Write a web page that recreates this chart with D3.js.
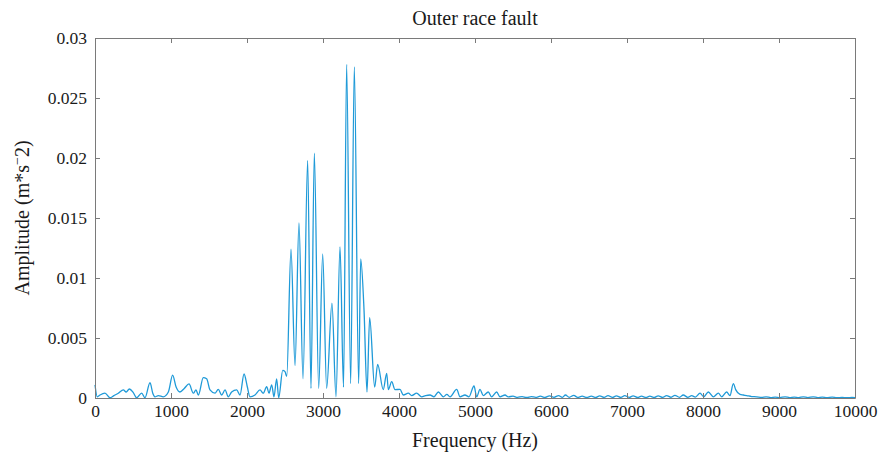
<!DOCTYPE html>
<html>
<head>
<meta charset="utf-8">
<script src="https://cdn.jsdelivr.net/npm/d3@7"></script>
<style>
body { margin: 0; background: #fff; }
.axis text { font-family: "Liberation Serif", "DejaVu Serif", serif; font-size: 17.5px; fill: #1a1a1a; }
.axis line, .axis path { stroke: #7a7a7a; }
.lbl { font-family: "Liberation Serif", "DejaVu Serif", serif; font-size: 20px; fill: #1a1a1a; }
</style>
</head>
<body>
<div id="chart"></div>
<script>
// spectrum: frequency (Hz) and amplitude (m*s^-2)
var freqHz = [0,30,66,131,197,250,307,373,410,452,504,548,614,658,724,760,789,833,899,965,
	1022,1066,1118,1175,1237,1294,1329,1360,1425,1469,1513,1579,1622,1667,1711,1754,1798,1864,1908,1961,
	2004,2039,2105,2171,2214,2259,2289,2325,2355,2390,2417,2470,2500,2523,2579,2632,2684,2737,2798,2842,
	2886,2943,2996,3048,3118,3171,3224,3270,3311,3364,3412,3469,3496,3540,3579,3614,3680,3719,3793,3838,
	3860,3904,3947,4013,4057,4123,4167,4232,4298,4350,4408,4460,4518,4583,4630,4671,4759,4803,4868,4920,
	4987,5022,5066,5109,5175,5219,5285,5329,5395,5438,5500,5560,5620,5680,5740,5800,5860,5920,5980,6040,
	6100,6150,6190,6240,6300,6350,6410,6470,6530,6590,6640,6700,6750,6810,6860,6920,6970,7030,7080,7140,
	7190,7250,7300,7360,7410,7470,7520,7580,7630,7690,7740,7800,7851,7900,7961,8010,8070,8136,8202,8246,
	8311,8355,8399,8430,8487,8530,8575,8640,8706,8770,8830,8890,8950,9010,9080,9140,9200,9260,9320,9380,
	9450,9510,9570,9630,9700,9760,9830,9900,9960,10000];
var ampl = [0.0011,0.0001,0.00025,0.0004,0.00002,0.0002,0.0004,0.00067,0.0005,0.00075,0.00045,0.00002,0.0004,0.00002,0.00128,0.0004,0.0001,0.0002,0.0001,0.0005,
	0.0019,0.00094,0.0005,0.0008,0.00117,0.0004,0.00067,0.00025,0.0017,0.0016,0.00067,0.0004,0.00072,0.00025,0.00067,0.0001,0.0005,0.00067,0.00025,0.002,
	0.00094,0.0001,0.00025,0.00067,0.0004,0.00094,0.0004,0.0011,0.0001,0.0016,0.00002,0.0023,0.0022,0.0018,0.0124,0.0027,0.0146,0.0016,0.0198,0.0008,
	0.0204,0.0008,0.0120,0.0008,0.0079,0.0001,0.0126,0.0009,0.0278,0.0012,0.0276,0.0012,0.0116,0.0073,0.0005,0.0067,0.0009,0.0028,0.0007,0.00206,
	0.0007,0.00136,0.0007,0.00072,0.00025,0.0004,0.0002,0.0004,0.0001,0.0002,0.00025,0.0001,0.0005,0.0001,0.0003,0.0001,0.00072,0.0001,0.00025,0.0001,
	0.001,0.0001,0.00072,0.0002,0.0005,0.0001,0.0005,0.0001,0.00025,0.0001,0.00015,0.00005,0.00012,0.00004,0.00012,0.00005,0.00015,0.00005,0.00018,0.00006,
	0.0002,0.00006,0.00025,0.00006,0.00022,0.00005,0.00015,0.00004,0.00015,0.00005,0.00018,0.00005,0.0002,0.00005,0.00018,0.00005,0.0002,0.00005,0.00018,0.00005,
	0.00015,0.00004,0.00015,0.00005,0.00018,0.00005,0.0002,0.00006,0.00022,0.00006,0.00025,0.00006,0.0002,0.00008,0.0004,0.0001,0.0005,0.0001,0.0004,0.0001,
	0.0005,0.0002,0.0012,0.0007,0.0003,0.00025,0.0002,0.00012,0.0001,0.00004,0.0001,0.00003,0.00008,0.00003,0.0001,0.00003,0.00008,0.00003,0.0001,0.00003,
	0.0001,0.00003,0.00008,0.00003,0.00008,0.00002,0.00006,0.00002,0.00005,0.00002];

var xTicks = d3.range(0, 10001, 1000);
var yTicks = [0, 0.005, 0.01, 0.015, 0.02, 0.025, 0.03];

var W = 884, H = 462;
var m = {l:95, r:29, t:38, b:64};

var svg = d3.select('#chart').append('svg')
			.attr('width', W)
			.attr('height', H);

var x = d3.scaleLinear().domain([0, 10000]).range([m.l, W-m.r]);
var y = d3.scaleLinear().domain([0, 0.03]).range([H-m.b, m.t]);

var pts = freqHz.map((f,i)=>[f, ampl[i]]);

var line = d3.line()
			.x(d=>x(d[0]))
			.y(d=>y(d[1]))
			.curve(d3.curveMonotoneX);

svg.append('path')
	.datum(pts)
	.attr('fill', 'none')
	.attr('stroke', '#1f9ad8')
	.attr('stroke-width', 1.3)
	.attr('d', line);

// axes, ticks pointing inward on all four sides
svg.append('g')
	.attr('class', 'axis')
	.attr('transform', 'translate(0,'+(H-m.b)+')')
	.call(d3.axisBottom(x).tickValues(xTicks).tickSizeInner(-5).tickSizeOuter(0).tickPadding(7).tickFormat(d3.format('d')));

svg.append('g')
	.attr('class', 'axis')
	.attr('transform', 'translate(0,'+m.t+')')
	.call(d3.axisTop(x).tickValues(xTicks).tickSizeInner(-5).tickSizeOuter(0).tickFormat(''));

svg.append('g')
	.attr('class', 'axis')
	.attr('transform', 'translate('+m.l+',0)')
	.call(d3.axisLeft(y).tickValues(yTicks).tickSizeInner(-5).tickSizeOuter(0).tickPadding(8).tickFormat(d=>d===0 ? '0' : d3.format('')(+d.toFixed(3))));

svg.append('g')
	.attr('class', 'axis')
	.attr('transform', 'translate('+(W-m.r)+',0)')
	.call(d3.axisRight(y).tickValues(yTicks).tickSizeInner(-5).tickSizeOuter(0).tickFormat(''));

svg.selectAll('.axis').attr('font-family', null).attr('font-size', null);

svg.append('text')
	.attr('class', 'lbl')
	.attr('x', (m.l + W - m.r)/2)
	.attr('y', 25)
	.attr('text-anchor', 'middle')
	.text('Outer race fault');

svg.append('text')
	.attr('class', 'lbl')
	.attr('x', (m.l + W - m.r)/2)
	.attr('y', 447)
	.attr('text-anchor', 'middle')
	.text('Frequency (Hz)');

var yl = svg.append('text')
	.attr('class', 'lbl')
	.attr('transform', 'translate(29,'+((m.t + H - m.b)/2)+') rotate(-90)')
	.attr('text-anchor', 'middle');
yl.append('tspan').text('Amplitude (m*s');
yl.append('tspan').attr('baseline-shift', 'super').attr('font-size', '14px').text('\u2212');
yl.append('tspan').text('2)');
</script>
</body>
</html>
